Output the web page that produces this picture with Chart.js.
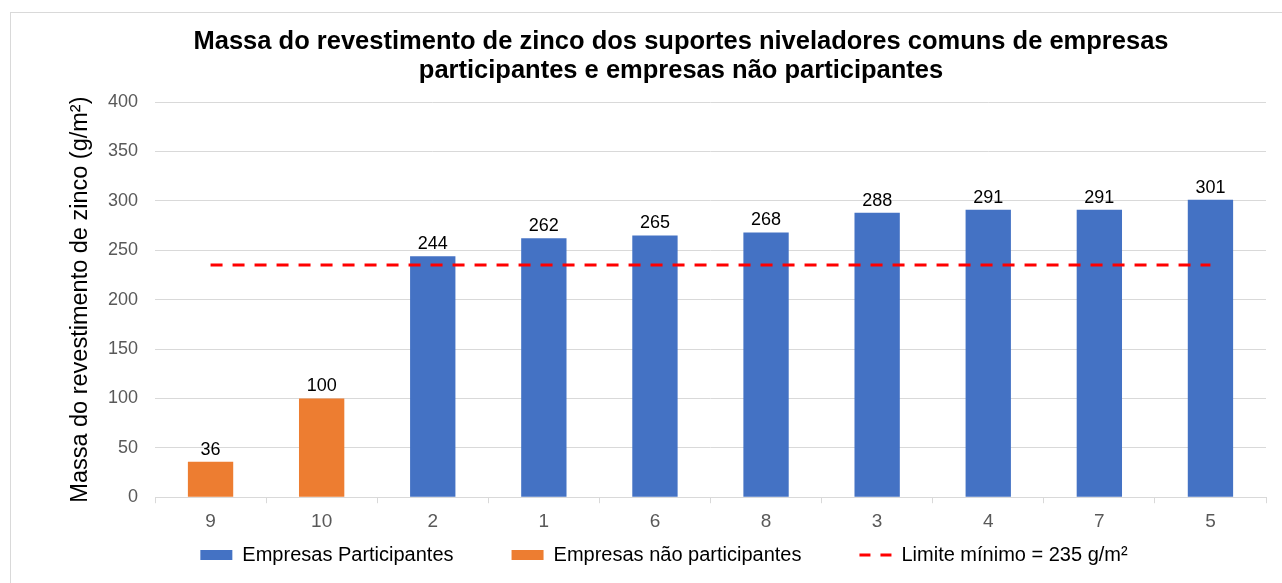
<!DOCTYPE html>
<html>
<head>
<meta charset="utf-8">
<script src="https://cdn.jsdelivr.net/npm/chart.js@4.4.1/dist/chart.umd.min.js"></script>
<style>
  html, body { margin: 0; padding: 0; background: #fff; overflow: hidden; }
  #wrap { position: relative; width: 1282px; height: 583px; }
  #frame { position: absolute; left: 10px; top: 12px; width: 1400px; height: 700px; border: 1px solid #d9d9d9; }
  #chart { position: absolute; left: 0; top: 0; }
</style>
</head>
<body>
<div id="wrap">
  <div id="frame"></div>
  <canvas id="chart" width="1282" height="583"></canvas>
</div>
<script>
// data
const empresas = ['9', '10', '2', '1', '6', '8', '3', '4', '7', '5'];
const participantes = [null, null, 244, 262, 265, 268, 288, 291, 291, 301];
const naoParticipantes = [36, 100, null, null, null, null, null, null, null, null];
const limiteMinimo = [235, 235, 235, 235, 235, 235, 235, 235, 235, 235];
const yTicks = [0, 50, 100, 150, 200, 250, 300, 350, 400];

const titleLines = [
  'Massa do revestimento de zinco dos suportes niveladores comuns de empresas',
  'participantes e empresas não participantes'
];

const FONT = '"Liberation Sans", Arial, sans-serif';

// title drawn by hand so it can sit where the original sits
const titlePlugin = {
  id: 'titleText',
  afterDraw(chart) {
    const ctx = chart.ctx;
    ctx.save();
    ctx.font = 'bold 25.5px ' + FONT;
    ctx.fillStyle = '#000';
    ctx.textAlign = 'center';
    ctx.textBaseline = 'middle';
    titleLines.forEach((line, i) => {
      ctx.fillText(line, 681, 42 + i * 29);
    });
    ctx.restore();
  }
};

// value labels above bars
const valueLabels = {
  id: 'valueLabels',
  afterDatasetsDraw(chart) {
    const ctx = chart.ctx;
    ctx.save();
    ctx.font = '18px ' + FONT;
    ctx.fillStyle = '#000';
    ctx.textAlign = 'center';
    ctx.textBaseline = 'bottom';
    chart.data.datasets.forEach((ds, di) => {
      if (ds.type === 'line') return;
      const meta = chart.getDatasetMeta(di);
      meta.data.forEach((bar, i) => {
        const v = ds.data[i];
        if (v == null) return;
        ctx.fillText(v, bar.x, bar.y - 3);
      });
    });
    ctx.restore();
  }
};

// legend: wide gaps between items but a short box,
// labels.padding is used for both so the draw is shifted up
const legendSpacing = {
  id: 'legendSpacing',
  afterInit(chart) {
    const lg = chart.legend;
    const draw = lg.draw;
    lg.draw = function () {
      const shift = this.options.labels.padding - 5;
      this.top -= shift;
      draw.call(this);
      this.top += shift;
    };
  }
};

new Chart(document.getElementById('chart'), {
  type: 'bar',
  data: {
    labels: empresas,
    datasets: [
      {
        label: 'Empresas Participantes',
        data: participantes,
        backgroundColor: '#4472C4',
        grouped: false,
        order: 2,
        pointStyle: 'rect'
      },
      {
        label: 'Empresas não participantes',
        data: naoParticipantes,
        backgroundColor: '#ED7D31',
        grouped: false,
        order: 2,
        pointStyle: 'rect'
      },
      {
        type: 'line',
        label: 'Limite mínimo = 235 g/m²',
        data: limiteMinimo,
        borderColor: '#FF0000',
        backgroundColor: '#FF0000',
        borderWidth: 3,
        borderDash: [12, 10],
        pointRadius: 0,
        fill: false,
        order: 1,
        pointStyle: 'line'
      }
    ]
  },
  options: {
    responsive: false,
    animation: false,
    categoryPercentage: 0.408,
    barPercentage: 1,
    layout: { padding: { left: 62, right: 16, top: 102, bottom: 3 } },
    plugins: {
      title: { display: false },
      tooltip: { enabled: false },
      legend: {
        position: 'bottom',
        maxHeight: 40,
        labels: {
          color: '#000',
          font: { family: FONT, size: 20 },
          usePointStyle: true,
          pointStyleWidth: 32,
          boxHeight: 10,
          padding: 58,
          sort: (a, b) => a.datasetIndex - b.datasetIndex,
          generateLabels(chart) {
            const items = Chart.defaults.plugins.legend.labels.generateLabels(chart);
            items.forEach(it => {
              if (it.pointStyle === 'line') {
                it.lineDash = [11, 10];
              } else {
                it.lineWidth = 0;
              }
            });
            return items;
          }
        }
      }
    },
    scales: {
      x: {
        grid: { drawOnChartArea: false, color: '#d9d9d9', tickLength: 6 },
        border: { color: '#d9d9d9' },
        ticks: { color: '#595959', font: { family: FONT, size: 19 }, padding: 7 }
      },
      y: {
        min: 0,
        max: 400,
        afterBuildTicks(scale) {
          scale.ticks = yTicks.map(v => ({ value: v }));
        },
        afterFit(scale) { scale.width = 93; },
        grid: { color: '#d9d9d9', drawTicks: false },
        border: { display: false },
        ticks: { color: '#595959', font: { family: FONT, size: 18 }, padding: 17 },
        title: {
          display: true,
          text: 'Massa do revestimento de zinco (g/m²)',
          color: '#000',
          font: { family: FONT, size: 23.5 },
          padding: { top: 4, bottom: 0 }
        }
      }
    }
  },
  plugins: [titlePlugin, valueLabels, legendSpacing]
});
</script>
</body>
</html>
